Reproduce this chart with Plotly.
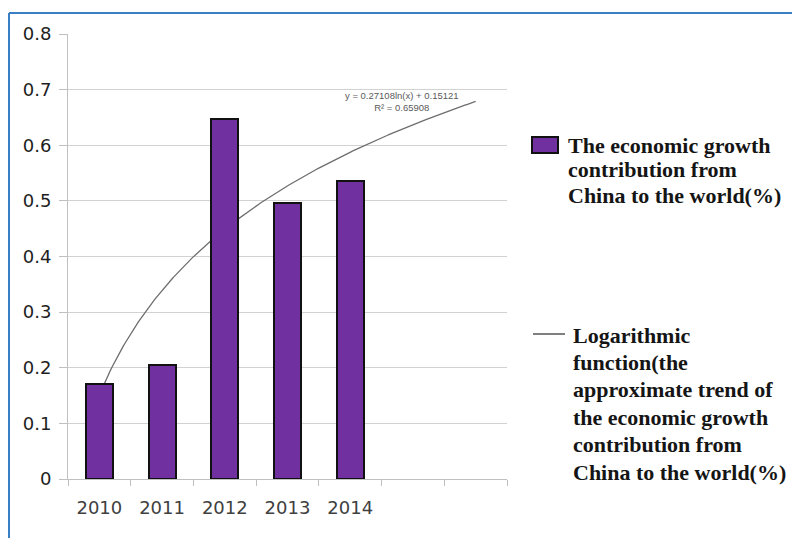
import numpy as np
import plotly.graph_objects as go

# ---- data ----
years = ["2010", "2011", "2012", "2013", "2014"]
contribution = [0.170, 0.205, 0.647, 0.496, 0.535]
trend_a = 0.27108          # y = a*ln(x) + b
trend_b = 0.15121
trend_r2 = 0.65908
n_slots = 7                # category slots on the x axis (two left empty)

legend_bar_lines = ["The economic growth", "contribution from", "China to the world(%)"]
legend_line_lines = ["Logarithmic", "function(the", "approximate trend of",
                     "the economic growth", "contribution from", "China to the world(%)"]

# ---- canvas / plot-area geometry (pixels) ----
W, H = 792, 538
L, R, T, B = 68, 285, 34, 59
PW, PH = W - L - R, H - T - B


def px(x):
    return (x - L) / PW


def py(y):
    return (H - B - y) / PH


BAR_COLOR = "#7030A0"
slot_pos = list(range(1, len(years) + 1))

fig = go.Figure()

# logarithmic trendline (drawn on the base axes, beneath the bars)
tx = np.linspace(1, n_slots, 300)
ty = trend_a * np.log(tx) + trend_b
fig.add_trace(go.Scatter(x=tx, y=ty, mode="lines",
                         line=dict(color="#6e6e6e", width=1.3),
                         showlegend=False, hoverinfo="skip"))

# bars on an overlaid pair of axes
fig.add_trace(go.Bar(x=slot_pos, y=contribution, width=0.43,
                     marker=dict(color=BAR_COLOR, line=dict(color="#111111", width=2)),
                     xaxis="x2", yaxis="y2", showlegend=False))

xr = [0.5, n_slots + 0.5]
yr = [0, 0.8]
boundaries = [i + 0.5 for i in range(n_slots + 1)]

fig.update_layout(
    width=W, height=H,
    margin=dict(l=L, r=R, t=T, b=B),
    paper_bgcolor="white", plot_bgcolor="white",
    xaxis=dict(range=xr, tickmode="array", tickvals=boundaries,
               ticktext=[""] * len(boundaries), ticks="outside", ticklen=6,
               tickcolor="#c0c0c0", showline=True, linecolor="#c0c0c0",
               linewidth=1, showgrid=False, zeroline=False, fixedrange=True),
    yaxis=dict(range=yr, dtick=0.1, tick0=0, ticks="outside", ticklen=8,
               tickcolor="#c0c0c0", showline=True, linecolor="#c0c0c0",
               linewidth=1, showgrid=True, gridcolor="#d2d2d2", gridwidth=1,
               zeroline=False, tickformat="~g",
               tickfont=dict(family="DejaVu Sans", size=18, color="#1e1e1e"),
               ticklabelstandoff=4, fixedrange=True),
    xaxis2=dict(range=xr, overlaying="x", tickmode="array", tickvals=slot_pos,
                ticktext=years, ticks="", showline=False, showgrid=False,
                zeroline=False, ticklabelstandoff=16,
                tickfont=dict(family="DejaVu Sans", size=18, color="#404040"),
                fixedrange=True),
    yaxis2=dict(range=yr, overlaying="y", showticklabels=False, showgrid=False,
                showline=False, zeroline=False, ticks="", fixedrange=True),
    bargap=0,
)

shapes = []
annotations = []

# frame lines along the top and left of the figure
shapes.append(dict(type="line", xref="paper", yref="paper",
                   x0=px(9), x1=px(W + 5), y0=py(13), y1=py(13),
                   line=dict(color="#3a7fc6", width=2)))
shapes.append(dict(type="line", xref="paper", yref="paper",
                   x0=px(9), x1=px(9), y0=py(13), y1=py(H + 5),
                   line=dict(color="#3a7fc6", width=2)))

# trendline equation
annotations.append(dict(
    xref="paper", yref="paper", x=px(402), y=py(102),
    xanchor="center", yanchor="middle", showarrow=False,
    text=f"y = {trend_a:.5f}ln(x) + {trend_b:.5f}<br>R² = {trend_r2:.5f}",
    font=dict(family="Liberation Sans", size=9.5, color="#5a5a5a")))

# legend: bar series
shapes.append(dict(type="rect", xref="paper", yref="paper",
                   x0=px(532), x1=px(558), y0=py(153), y1=py(137),
                   fillcolor=BAR_COLOR, line=dict(color="#111111", width=2)))
legend_font = dict(family="Liberation Serif", size=22, color="#151515")
for i, line_text in enumerate(legend_bar_lines):
    annotations.append(dict(
        xref="paper", yref="paper", x=px(566), y=py(145 + 25 * i),
        xanchor="left", yanchor="middle", showarrow=False,
        text=f"<b>{line_text}</b>", font=legend_font))

# legend: trendline
shapes.append(dict(type="line", xref="paper", yref="paper",
                   x0=px(533), x1=px(565), y0=py(334), y1=py(334),
                   line=dict(color="#555555", width=1.5)))
for i, line_text in enumerate(legend_line_lines):
    annotations.append(dict(
        xref="paper", yref="paper", x=px(571), y=py(335 + 27.4 * i),
        xanchor="left", yanchor="middle", showarrow=False,
        text=f"<b>{line_text}</b>", font=legend_font))

fig.update_layout(shapes=shapes, annotations=annotations)

fig.write_html("out.html")
